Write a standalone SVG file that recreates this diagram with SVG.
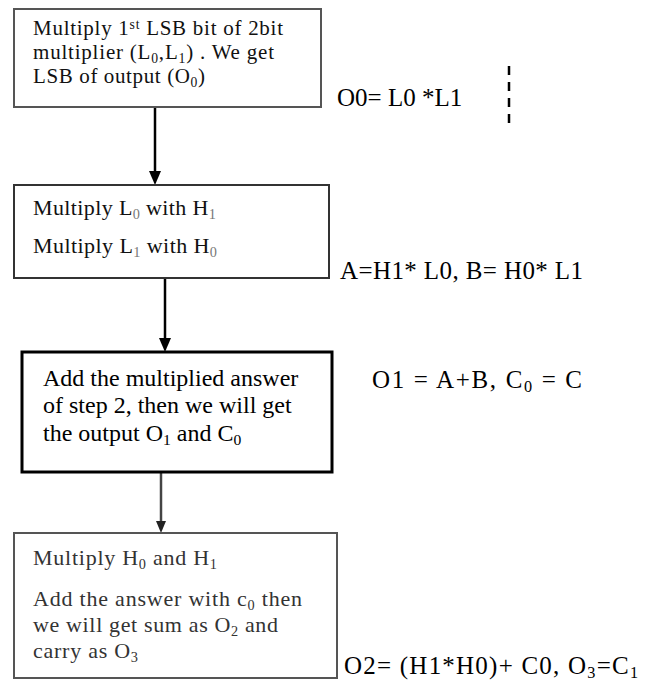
<svg xmlns="http://www.w3.org/2000/svg" width="646" height="684" viewBox="0 0 646 684">
<defs>
<style>
.t{font-family:"Liberation Serif","Times New Roman",serif;fill:#111}
.b1{font-size:21px}
.b2{font-size:22px}
.b3{font-size:24px;fill:#000}
.b4{font-size:22px;fill:#333}
.lab{font-family:"Liberation Serif","Times New Roman",serif;font-size:25px;fill:#000}
.box{fill:#fff}
.sub{font-size:65%;baseline-shift:-25%}
.sup{font-size:65%;baseline-shift:45%}
</style>
</defs>
<rect width="646" height="684" fill="#fff"/>
<g id="connectors">
<line x1="155" y1="107" x2="155" y2="171" stroke="#000" stroke-width="2.5"/>
<path d="M149,171 L161,171 L155,185 Z" fill="#000"/>
<line x1="165" y1="278" x2="165" y2="338" stroke="#000" stroke-width="2.5"/>
<path d="M159,338 L171,338 L165,352 Z" fill="#000"/>
<line x1="161" y1="472" x2="161" y2="521" stroke="#444" stroke-width="2.5"/>
<path d="M156,521 L166,521 L161,533 Z" fill="#222"/>
<line x1="509" y1="66" x2="509" y2="123" stroke="#000" stroke-width="2.5" stroke-dasharray="9 7"/>
</g>
<g id="node1">
<rect class="box" x="14" y="9" width="307" height="98" stroke="#555" stroke-width="2"/>
<text class="t b1" x="33" y="35" textLength="250" lengthAdjust="spacing">Multiply 1<tspan class="sup">st</tspan> LSB bit of 2bit</text>
<text class="t b1" x="33" y="59" textLength="241" lengthAdjust="spacing">multiplier (L<tspan class="sub">0</tspan>,L<tspan class="sub">1</tspan>) . We get</text>
<text class="t b1" x="33" y="83" textLength="172" lengthAdjust="spacing">LSB of output (O<tspan class="sub">0</tspan>)</text>
</g>
<g id="label1">
<text class="lab" x="337" y="106">O0= L0 *L1</text>
</g>
<g id="node2">
<rect class="box" x="14" y="185" width="315" height="93" stroke="#333" stroke-width="2"/>
<text class="t b2" x="33" y="215" textLength="183" lengthAdjust="spacing">Multiply L<tspan class="sub" fill="#777">0</tspan> with H<tspan class="sub" fill="#777">1</tspan></text>
<text class="t b2" x="33" y="253" textLength="184" lengthAdjust="spacing">Multiply L<tspan class="sub" fill="#777">1</tspan> with H<tspan class="sub" fill="#777">0</tspan></text>
</g>
<g id="label2">
<text class="lab" x="340" y="279" textLength="243" lengthAdjust="spacing">A=H1* L0, B= H0* L1</text>
</g>
<g id="node3">
<rect class="box" x="22" y="352" width="310" height="120" stroke="#000" stroke-width="3"/>
<text class="t b3" x="43" y="386">Add the multiplied answer</text>
<text class="t b3" x="43" y="413">of step 2, then we will get</text>
<text class="t b3" x="43" y="441">the output O<tspan class="sub">1</tspan> and C<tspan class="sub">0</tspan></text>
</g>
<g id="label3">
<text class="lab" x="372" y="388" textLength="210" lengthAdjust="spacing">O1 = A+B, C<tspan class="sub">0</tspan> = C</text>
</g>
<g id="node4">
<rect class="box" x="14" y="533" width="323" height="145" stroke="#555" stroke-width="2"/>
<text class="t b4" x="33" y="565" textLength="184" lengthAdjust="spacing">Multiply H<tspan class="sub">0</tspan> and H<tspan class="sub">1</tspan></text>
<text class="t b4" x="33" y="606" textLength="269" lengthAdjust="spacing">Add the answer with c<tspan class="sub">0</tspan> then</text>
<text class="t b4" x="33" y="632" textLength="245" lengthAdjust="spacing">we will get sum as O<tspan class="sub">2</tspan> and</text>
<text class="t b4" x="33" y="658" textLength="105" lengthAdjust="spacing">carry as O<tspan class="sub">3</tspan></text>
</g>
<g id="label4">
<text class="lab" x="344" y="674" textLength="294" lengthAdjust="spacing">O2= (H1*H0)+ C0, O<tspan class="sub">3</tspan>=C<tspan class="sub">1</tspan></text>
</g>
</svg>
